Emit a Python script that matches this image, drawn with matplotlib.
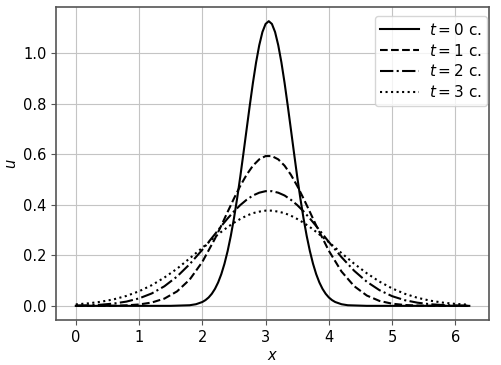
import matplotlib
matplotlib.use('Agg')
import matplotlib.pyplot as plt

# t = 0: finer sampling near the peak
x0 = [0.0, 0.5, 1.0, 1.5, 1.8, 1.9, 2.0, 2.05, 2.1, 2.15, 2.2, 2.25, 2.3, 2.35,
      2.4, 2.45, 2.5, 2.55, 2.6, 2.65, 2.7, 2.75, 2.8, 2.85, 2.9, 2.95, 3.0,
      3.05, 3.1, 3.15, 3.2, 3.25, 3.3, 3.35, 3.4, 3.45, 3.5, 3.55, 3.6, 3.65,
      3.7, 3.75, 3.8, 3.85, 3.9, 3.95, 4.0, 4.05, 4.1, 4.2, 4.3, 4.6, 5.0,
      5.5, 6.0, 6.22]
u0 = [0.0, 0.0, 0.0, 0.0001, 0.0025, 0.0065, 0.0153, 0.0228, 0.0333, 0.0478,
      0.0673, 0.0928, 0.1255, 0.1666, 0.2168, 0.2767, 0.3463, 0.425, 0.5114,
      0.604, 0.6987, 0.793, 0.883, 0.964, 1.032, 1.084, 1.116, 1.127, 1.116,
      1.084, 1.032, 0.964, 0.883, 0.793, 0.699, 0.604, 0.511, 0.425, 0.346,
      0.2767, 0.217, 0.1666, 0.1255, 0.0928, 0.0673, 0.0478, 0.0333, 0.0228,
      0.0153, 0.0065, 0.0025, 0.0001, 0.0, 0.0, 0.0, 0.0]

# t = 1, 2, 3
x = [0.0, 0.2, 0.4, 0.6, 0.8, 1.0, 1.2, 1.4, 1.6, 1.8, 2.0, 2.2, 2.3, 2.4, 2.5,
     2.6, 2.7, 2.8, 2.9, 3.0, 3.1, 3.2, 3.3, 3.4, 3.5, 3.6, 3.7, 3.8, 4.0, 4.2,
     4.4, 4.6, 4.8, 5.0, 5.2, 5.4, 5.6, 5.8, 6.0, 6.22]
u1 = [0.0, 0.0001, 0.0002, 0.0007, 0.0021, 0.0055, 0.0132, 0.0287, 0.0572,
      0.104, 0.174, 0.266, 0.318, 0.372, 0.425, 0.475, 0.519, 0.555, 0.580,
      0.593, 0.593, 0.580, 0.555, 0.519, 0.475, 0.425, 0.372, 0.318, 0.218,
      0.136, 0.0781, 0.0409, 0.0196, 0.0086, 0.0035, 0.0013, 0.0004, 0.0001,
      0.0, 0.0]
u2 = [0.0011, 0.0023, 0.0047, 0.0092, 0.0169, 0.0296, 0.0491, 0.0775, 0.116,
      0.165, 0.222, 0.284, 0.316, 0.346, 0.374, 0.399, 0.420, 0.437, 0.448,
      0.454, 0.454, 0.448, 0.437, 0.420, 0.399, 0.374, 0.346, 0.316, 0.253,
      0.193, 0.139, 0.0954, 0.0622, 0.0384, 0.0225, 0.0126, 0.0066, 0.0033,
      0.0016, 0.0007]
u3 = [0.0059, 0.0100, 0.0164, 0.0259, 0.0394, 0.0578, 0.0818, 0.112, 0.147,
      0.188, 0.230, 0.273, 0.293, 0.312, 0.329, 0.344, 0.357, 0.367, 0.373,
      0.377, 0.377, 0.373, 0.367, 0.357, 0.344, 0.329, 0.312, 0.293, 0.252,
      0.209, 0.167, 0.129, 0.0961, 0.0691, 0.0479, 0.0320, 0.0207, 0.0129,
      0.0078, 0.0045]

labels = ['$t = 0$ c.', '$t = 1$ c.', '$t = 2$ c.', '$t = 3$ c.']

plt.rcParams['font.size'] = 10.5
fig, ax = plt.subplots(figsize=(5.01, 3.65), dpi=100)
ax.plot(x0, u0, color='black', linestyle='-', lw=1.5, label=labels[0])
ax.plot(x, u1, color='black', linestyle='--', lw=1.5, label=labels[1])
ax.plot(x, u2, color='black', linestyle='-.', lw=1.5, label=labels[2])
ax.plot(x, u3, color='black', linestyle=':', lw=1.5, label=labels[3])

ax.grid(True, color='#c4c4c4', lw=0.8)
ax.set_xlabel('$x$', labelpad=2)
ax.set_ylabel('$u$', labelpad=3)
for s in ax.spines.values():
    s.set_color('#555555')
    s.set_linewidth(1.2)
ax.tick_params(color='#555555')
ax.legend(loc='upper right', bbox_to_anchor=(1.0, 0.975), borderaxespad=0.1,
          fontsize=11, handlelength=2.5, handletextpad=0.7, borderpad=0.35,
          labelspacing=0.32)

plt.subplots_adjust(left=0.112, right=0.976, top=0.981, bottom=0.123)
plt.savefig('out.png', dpi=100)
